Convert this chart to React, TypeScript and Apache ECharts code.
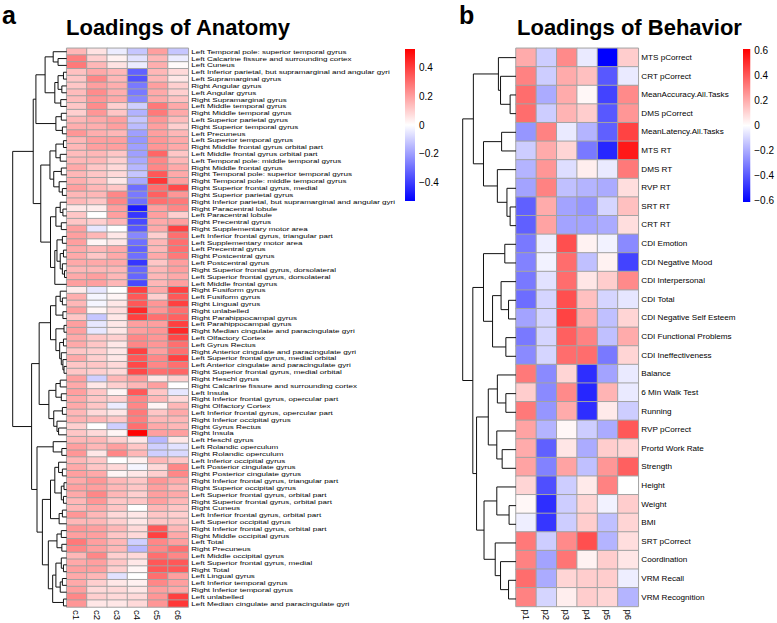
import React, { useEffect, useRef } from "react";
import * as echarts from "echarts";

type Tree = number | [Tree, Tree, number];

const FONT = "Liberation Sans, Arial, Helvetica, sans-serif";

const anatomyRows = [
  "Left Temporal pole: superior temporal gyrus",
  "Left Calcarine fissure and surrounding cortex",
  "Left Cuneus",
  "Left Inferior parietal, but supramarginal and angular gyri",
  "Left Supramarginal gyrus",
  "Right Angular gyrus",
  "Left Angular gyrus",
  "Right Supramarginal gyrus",
  "Left Middle temporal gyrus",
  "Right Middle temporal gyrus",
  "Left Superior parietal gyrus",
  "Right Superior temporal gyrus",
  "Left Precuneus",
  "Left Superior temporal gyrus",
  "Right Middle frontal gyrus orbital part",
  "Left Middle frontal gyrus orbital part",
  "Left Temporal pole: middle temporal gyrus",
  "Right Middle frontal gyrus",
  "Right Temporal pole: superior temporal gyrus",
  "Right Temporal pole: middle temporal gyrus",
  "Right Superior frontal gyrus, medial",
  "Right Superior parietal gyrus",
  "Right Inferior parietal, but supramarginal and angular gyri",
  "Right Paracentral lobule",
  "Left Paracentral lobule",
  "Right Precentral gyrus",
  "Right Supplementary motor area",
  "Left Inferior frontal gyrus, triangular part",
  "Left Supplementary motor area",
  "Left Precentral gyrus",
  "Right Postcentral gyrus",
  "Left Postcentral gyrus",
  "Right Superior frontal gyrus, dorsolateral",
  "Left Superior frontal gyrus, dorsolateral",
  "Left Middle frontal gyrus",
  "Right Fusiform gyrus",
  "Left Fusiform gyrus",
  "Right Lingual gyrus",
  "Right unlabelled",
  "Right Parahippocampal gyrus",
  "Left Parahippocampal gyrus",
  "Right Median cingulate and paracingulate gyri",
  "Left Olfactory Cortex",
  "Left Gyrus Rectus",
  "Right Anterior cingulate and paracingulate gyri",
  "Left Superior frontal gyrus, medial orbital",
  "Left Anterior cingulate and paracingulate gyri",
  "Right Superior frontal gyrus, medial orbital",
  "Right Heschl gyrus",
  "Right Calcarine fissure and surrounding cortex",
  "Left Insula",
  "Right Inferior frontal gyrus, opercular part",
  "Right Olfactory Cortex",
  "Left Inferior frontal gyrus, opercular part",
  "Right Inferior occipital gyrus",
  "Right Gyrus Rectus",
  "Right Insula",
  "Left Heschl gyrus",
  "Left Rolandic operculum",
  "Right Rolandic operculum",
  "Left Inferior occipital gyrus",
  "Left Posterior cingulate gyrus",
  "Right Posterior cingulate gyrus",
  "Right Inferior frontal gyrus, triangular part",
  "Right Superior occipital gyrus",
  "Left Superior frontal gyrus, orbital part",
  "Right Superior frontal gyrus, orbital part",
  "Right Cuneus",
  "Left Inferior frontal gyrus, orbital part",
  "Left Superior occipital gyrus",
  "Right Inferior frontal gyrus, orbital part",
  "Right Middle occipital gyrus",
  "Left Total",
  "Right Precuneus",
  "Left Middle occipital gyrus",
  "Left Superior frontal gyrus, medial",
  "Right Total",
  "Left Lingual gyrus",
  "Left Inferior temporal gyrus",
  "Right Inferior temporal gyrus",
  "Left unlabelled",
  "Left Median cingulate and paracingulate gyri",
];

const anatomyCols = ["c1", "c2", "c3", "c4", "c5", "c6"];

const anatomyLoadings: number[][] = [
  [0.15, 0.06, -0.04, -0.12, 0.2, -0.12],
  [0.27, 0.1, 0.03, -0.06, 0.15, -0.04],
  [0.28, 0.15, 0.06, -0.04, 0.17, 0.01],
  [0.13, 0.18, 0.15, -0.33, 0.15, 0.08],
  [0.12, 0.25, 0.15, -0.36, 0.15, 0.05],
  [0.12, 0.2, 0.17, -0.28, 0.2, 0.1],
  [0.14, 0.24, 0.17, -0.28, 0.18, 0.1],
  [0.14, 0.22, 0.18, -0.25, 0.18, 0.13],
  [0.12, 0.24, 0.1, -0.1, 0.28, 0.18],
  [0.1, 0.22, 0.12, -0.16, 0.28, 0.18],
  [0.15, 0.18, 0.2, -0.12, 0.22, 0.14],
  [0.17, 0.17, 0.2, -0.14, 0.2, 0.1],
  [0.22, 0.17, 0.15, -0.2, 0.2, 0.15],
  [0.15, 0.2, 0.2, -0.22, 0.22, 0.18],
  [0.15, 0.2, 0.2, -0.2, 0.22, 0.18],
  [0.14, 0.15, 0.12, -0.2, 0.32, 0.12],
  [0.15, 0.15, 0.1, -0.18, 0.25, 0.15],
  [0.18, 0.12, 0.08, -0.15, 0.25, 0.18],
  [0.15, 0.12, 0.08, -0.12, 0.35, 0.18],
  [0.17, 0.13, 0.05, -0.18, 0.42, 0.2],
  [0.2, 0.15, 0.12, -0.3, 0.3, 0.38],
  [0.15, 0.15, 0.25, -0.28, 0.33, 0.22],
  [0.15, 0.12, 0.25, -0.3, 0.3, 0.28],
  [0.05, 0.04, 0.2, -0.48, 0.2, 0.25],
  [0.12, 0.0, 0.2, -0.42, 0.2, 0.1],
  [0.12, 0.1, 0.15, -0.38, 0.18, 0.2],
  [0.2, -0.05, 0.0, -0.35, 0.18, 0.4],
  [0.2, 0.15, 0.05, -0.25, 0.1, 0.3],
  [0.2, 0.02, 0.05, -0.3, 0.15, 0.3],
  [0.18, 0.15, 0.18, -0.33, 0.15, 0.3],
  [0.18, 0.12, 0.18, -0.3, 0.18, 0.28],
  [0.18, 0.18, 0.18, -0.42, 0.12, 0.2],
  [0.15, 0.15, 0.15, -0.32, 0.15, 0.2],
  [0.18, 0.2, 0.15, -0.32, 0.15, 0.18],
  [0.2, 0.2, 0.15, -0.38, 0.15, 0.2],
  [0.04, -0.05, 0.0, 0.4, 0.18, 0.4],
  [0.17, -0.02, 0.02, 0.35, 0.1, 0.35],
  [0.15, -0.02, 0.05, 0.35, 0.22, 0.4],
  [0.2, 0.02, 0.07, 0.45, 0.22, 0.3],
  [0.12, -0.12, 0.05, 0.4, 0.3, 0.33],
  [0.2, -0.05, 0.05, 0.2, 0.2, 0.4],
  [0.2, -0.05, 0.05, 0.2, 0.22, 0.45],
  [0.18, 0.12, 0.1, 0.25, 0.22, 0.38],
  [0.18, 0.12, 0.05, 0.25, 0.22, 0.3],
  [0.12, 0.1, 0.05, 0.4, 0.2, 0.3],
  [0.18, 0.1, 0.05, 0.35, 0.25, 0.4],
  [0.12, 0.12, 0.08, 0.38, 0.25, 0.3],
  [0.12, 0.1, 0.08, 0.38, 0.3, 0.32],
  [0.2, -0.1, 0.15, 0.2, 0.05, 0.1],
  [0.18, 0.05, 0.1, 0.15, 0.2, 0.0],
  [0.2, 0.12, 0.02, 0.35, 0.12, -0.05],
  [0.18, 0.12, 0.1, 0.25, 0.15, 0.08],
  [0.18, 0.12, -0.04, 0.25, 0.02, 0.15],
  [0.15, 0.08, 0.05, 0.28, 0.12, 0.18],
  [0.16, 0.15, 0.12, 0.27, 0.15, 0.15],
  [0.1, 0.0, -0.1, 0.3, 0.18, 0.15],
  [0.12, 0.08, 0.02, 0.53, 0.2, 0.2],
  [0.15, 0.15, 0.1, 0.05, -0.15, 0.05],
  [0.2, 0.15, 0.2, 0.12, -0.1, -0.06],
  [0.22, 0.05, 0.25, 0.15, -0.1, -0.08],
  [0.15, 0.12, 0.0, 0.03, 0.15, 0.12],
  [0.18, 0.12, 0.08, -0.02, 0.08, 0.25],
  [0.2, 0.18, 0.02, 0.05, 0.1, 0.25],
  [0.18, 0.22, 0.15, 0.12, 0.22, 0.18],
  [0.2, 0.2, 0.15, 0.12, 0.2, 0.15],
  [0.18, 0.25, 0.15, 0.1, 0.2, 0.18],
  [0.15, 0.22, 0.12, 0.12, 0.2, 0.15],
  [0.15, 0.18, 0.12, 0.0, 0.15, 0.12],
  [0.22, 0.15, 0.08, 0.05, 0.12, 0.1],
  [0.15, 0.15, 0.1, 0.05, 0.12, 0.12],
  [0.22, 0.2, 0.15, 0.08, 0.35, 0.15],
  [0.2, 0.2, 0.12, 0.08, 0.4, 0.18],
  [0.28, 0.2, 0.15, -0.1, 0.25, 0.2],
  [0.25, 0.2, 0.15, -0.15, 0.25, 0.3],
  [0.15, 0.25, 0.1, 0.08, 0.3, 0.25],
  [0.18, 0.2, 0.12, 0.05, 0.35, 0.35],
  [0.2, 0.2, 0.1, 0.02, 0.35, 0.35],
  [0.18, 0.15, -0.06, 0.0, 0.3, 0.2],
  [0.18, 0.1, 0.05, 0.03, 0.25, 0.2],
  [0.2, 0.08, 0.08, 0.05, 0.2, 0.18],
  [0.25, 0.1, 0.08, 0.08, 0.22, 0.4],
  [0.22, 0.05, 0.05, 0.08, 0.22, 0.42],
];

const anatomyTree: Tree = [
  [
    [
      [[0, [1, 2, 0.16], 0.25], [[[3, 4, 0.06], [5, 6, 0.09], 0.16], [7, 8, 0.11], 0.22], 0.4],
      [[9, 10, 0.1], [11, 12, 0.08], 0.2],
      0.57,
    ],
    [
      [[[13, 14, 0.06], [15, 16, 0.12], 0.2], [[17, 18, 0.1], [19, [20, 21, 0.08], 0.14], 0.24], 0.31],
      [
        [[22, [23, 24, 0.07], 0.12], [25, 26, 0.1], 0.2],
        [[[27, 28, 0.08], [[29, 30, 0.06], [31, [32, 33, 0.04], 0.08], 0.12], 0.18], 34, 0.22],
        0.3,
      ],
      0.48,
    ],
    0.62,
  ],
  [
    [
      [
        [[35, [36, 37, 0.08], 0.12], [38, 39, 0.07], 0.2],
        [[40, 41, 0.05], [[42, 43, 0.06], [44, [45, [46, 47, 0.05], 0.07], 0.1], 0.13], 0.2],
        0.3,
      ],
      [[[48, 49, 0.12], [50, 51, 0.1], 0.2], [[52, 53, 0.08], [54, [55, 56, 0.15], 0.18], 0.24], 0.33],
      0.51,
    ],
    [
      [57, [58, 59, 0.09], 0.25],
      [
        [[[60, [61, 62, 0.08], 0.15], [[63, 64, 0.05], [65, 66, 0.06], 0.1], 0.22], [[67, 68, 0.08], 69, 0.14], 0.3],
        [
          [[70, 71, 0.1], [72, 73, 0.09], 0.18],
          [[[74, [75, 76, 0.06], 0.1], [[77, 78, 0.08], 79, 0.12], 0.2], [80, 81, 0.06], 0.26],
          0.34,
        ],
        0.45,
      ],
      0.55,
    ],
    0.65,
  ],
  1.0,
];

const behaviorRows = [
  "MTS pCorrect",
  "CRT pCorrect",
  "MeanAccuracy.All.Tasks",
  "DMS pCorrect",
  "MeanLatency.All.Tasks",
  "MTS RT",
  "DMS RT",
  "RVP RT",
  "SRT RT",
  "CRT RT",
  "CDI Emotion",
  "CDI Negative Mood",
  "CDI Interpersonal",
  "CDI Total",
  "CDI Negative Self Esteem",
  "CDI Functional Problems",
  "CDI Ineffectiveness",
  "Balance",
  "6 Min Walk Test",
  "Running",
  "RVP pCorrect",
  "Prortd Work Rate",
  "Strength",
  "Height",
  "Weight",
  "BMI",
  "SRT pCorrect",
  "Coordination",
  "VRM Recall",
  "VRM Recognition",
];

const behaviorCols = ["p1", "p2", "p3", "p4", "p5", "p6"];

const behaviorLoadings: number[][] = [
  [0.2, -0.12, 0.28, -0.05, -0.61, 0.12],
  [0.3, -0.12, 0.2, 0.15, -0.4, -0.05],
  [0.35, -0.2, 0.2, 0.02, -0.45, 0.28],
  [0.35, -0.12, 0.18, 0.12, -0.4, 0.25],
  [-0.25, 0.3, -0.05, -0.18, -0.38, 0.45],
  [-0.12, 0.2, 0.1, -0.32, -0.52, 0.55],
  [-0.18, 0.25, -0.08, 0.04, -0.05, 0.32],
  [-0.22, 0.3, -0.15, -0.18, -0.2, 0.08],
  [-0.38, 0.2, -0.22, -0.25, -0.1, 0.15],
  [-0.38, 0.22, -0.22, -0.22, -0.2, 0.08],
  [-0.32, -0.04, 0.42, 0.03, -0.03, -0.28],
  [-0.3, -0.03, 0.35, -0.15, 0.03, -0.45],
  [-0.32, -0.07, 0.35, 0.06, 0.12, 0.28],
  [-0.35, -0.1, 0.42, 0.15, -0.1, -0.06],
  [-0.22, -0.1, 0.45, 0.2, -0.15, 0.1],
  [-0.32, -0.1, 0.38, 0.3, -0.15, 0.2],
  [-0.28, -0.1, 0.35, 0.35, -0.32, 0.1],
  [0.32, -0.28, 0.1, -0.5, -0.22, -0.05],
  [0.12, -0.28, 0.28, -0.52, 0.18, -0.05],
  [0.32, -0.25, 0.2, -0.5, 0.05, -0.12],
  [0.22, -0.18, 0.02, -0.12, -0.2, 0.4],
  [0.2, -0.38, 0.06, -0.2, 0.12, 0.1],
  [0.22, -0.3, 0.22, -0.15, 0.25, 0.38],
  [0.1, -0.42, -0.12, 0.05, 0.3, 0.0],
  [0.02, -0.5, -0.12, 0.1, -0.03, 0.12],
  [-0.04, -0.48, -0.12, 0.12, -0.15, 0.1],
  [0.32, -0.12, 0.28, 0.42, -0.18, 0.08],
  [0.3, -0.22, 0.33, 0.03, 0.12, 0.06],
  [0.35, -0.2, 0.1, 0.12, 0.12, -0.04],
  [0.3, -0.1, 0.04, 0.12, 0.1, -0.18],
];

const behaviorTree: Tree = [
  [
    [0, [1, [2, 3, 0.11], 0.29], 0.33],
    [[4, 5, 0.27], [6, [7, [8, 9, 0.11], 0.17], 0.35], 0.61],
    0.8,
  ],
  [
    [[10, 11, 0.21], [[12, [13, 14, 0.14], 0.28], [15, 16, 0.19], 0.44], 0.61],
    [
      [[17, [18, 19, 0.19], 0.35], [20, [21, 22, 0.26], 0.36], 0.52],
      [[23, [24, 25, 0.13], 0.36], [26, [27, [28, 29, 0.14], 0.29], 0.39], 0.6],
      0.74,
    ],
    0.81,
  ],
  1.0,
];

const anatomyRange = 0.533;
const behaviorRange = 0.61;
const anatomyTicks = [-0.4, -0.2, 0, 0.2, 0.4];
const behaviorTicks = [-0.6, -0.4, -0.2, 0, 0.2, 0.4, 0.6];
const rampColors = ["#0000ff", "#ffffff", "#ff0000"];

function dendrogramSegments(tree: Tree): number[][][] {
  const segs: number[][][] = [];
  const walk = (node: Tree): [number, number] => {
    if (typeof node === "number") return [node, 0];
    const [l, r, h] = node;
    const [lp, lh] = walk(l);
    const [rp, rh] = walk(r);
    segs.push([
      [lh, lp],
      [h, lp],
      [h, rp],
      [rh, rp],
    ]);
    return [(lp + rp) / 2, h];
  };
  walk(tree);
  return segs;
}

function tickText(v: number): string {
  if (Math.abs(v) < 1e-9) return "0";
  return v < 0 ? "\u2212" + Math.abs(v) : String(v);
}

function heatData(m: number[][]) {
  const out: number[][] = [];
  m.forEach((row, i) => row.forEach((v, j) => out.push([j, i, v])));
  return out;
}

export default function App() {
  const ref = useRef<HTMLDivElement>(null);

  useEffect(() => {
    if (!ref.current) return;
    const chart = echarts.init(ref.current, undefined, { renderer: "svg" });

    const L = { left: 66.7, top: 48.3, width: 121.6, height: 561 };
    const R = { left: 516, top: 48.3, width: 122.3, height: 560 };

    const catX = (data: string[], gridIndex: number) => ({
      type: "category",
      data,
      gridIndex,
      position: "bottom",
      axisLine: { show: false },
      axisTick: { show: false },
      splitLine: { show: false },
      axisLabel: { rotate: -90, fontSize: 9.5, margin: 3, color: "#000", fontFamily: FONT },
    });
    const catY = (data: string[], gridIndex: number) => ({
      type: "category",
      data,
      gridIndex,
      inverse: true,
      axisLine: { show: false },
      axisTick: { show: false },
      splitLine: { show: false },
      axisLabel: { show: false },
    });
    const hidden = (gridIndex: number, min: number, max: number, inverse: boolean) => ({
      type: "value",
      gridIndex,
      min,
      max,
      inverse,
      show: false,
      splitLine: { show: false },
    });
    const barY = (gridIndex: number, range: number, ticks: number[]) => ({
      type: "value",
      gridIndex,
      min: -range,
      max: range,
      position: "right",
      axisLine: { show: false },
      axisTick: { show: false },
      splitLine: { show: false },
      axisLabel: {
        customValues: ticks,
        formatter: (v: number) => tickText(v),
        fontSize: 10,
        margin: 4,
        color: "#000",
        fontFamily: FONT,
      },
    });

    const rowLabels = (rows: string[], ax: number, ncol: number, fontSize: number, scaleX: number) => ({
      type: "custom",
      xAxisIndex: ax,
      yAxisIndex: ax,
      silent: true,
      z: 5,
      data: rows.map((_, i) => [ncol - 1, i]),
      renderItem: (params: any, api: any) => {
        const c = api.coord([api.value(0), api.value(1)]);
        const bw = api.size([1, 0])[0];
        return {
          type: "text",
          x: c[0] + bw / 2 + 3,
          y: c[1],
          scaleX,
          style: {
            text: rows[params.dataIndex],
            fontSize,
            fontFamily: FONT,
            fill: "#000",
            align: "left",
            verticalAlign: "middle",
          },
        };
      },
    });

    const colorBar = (ax: number, range: number) => ({
      type: "custom",
      xAxisIndex: ax,
      yAxisIndex: ax,
      silent: true,
      data: [[0, -range, range]],
      renderItem: (_p: any, api: any) => {
        const p0 = api.coord([0, api.value(2)]);
        const p1 = api.coord([1, api.value(1)]);
        return {
          type: "rect",
          shape: { x: p0[0], y: p0[1], width: p1[0] - p0[0], height: p1[1] - p0[1] },
          style: {
            fill: new echarts.graphic.LinearGradient(0, 0, 0, 1, [
              { offset: 0, color: rampColors[2] },
              { offset: 0.5, color: rampColors[1] },
              { offset: 1, color: rampColors[0] },
            ]),
          },
        };
      },
    });

    const dendro = (tree: Tree, ax: number) => ({
      type: "lines",
      coordinateSystem: "cartesian2d",
      xAxisIndex: ax,
      yAxisIndex: ax,
      polyline: true,
      silent: true,
      lineStyle: { color: "#111", width: 1, opacity: 1 },
      data: dendrogramSegments(tree).map((coords) => ({ coords })),
    });

    const heat = (m: number[][], ax: number) => ({
      type: "heatmap",
      xAxisIndex: ax,
      yAxisIndex: ax,
      data: heatData(m),
      silent: true,
      itemStyle: { borderColor: "#a3a3a3", borderWidth: 1 },
      emphasis: { disabled: true },
    });

    chart.setOption({
      animation: false,
      backgroundColor: "#ffffff",
      textStyle: { fontFamily: FONT },
      grid: [
        { ...L },
        { left: 12.7, top: L.top, width: 54, height: L.height },
        { left: 405, top: 49, width: 10, height: 152 },
        { ...R },
        { left: 462.7, top: R.top, width: 53.3, height: R.height },
        { left: 743, top: 49, width: 10, height: 153 },
      ],
      xAxis: [
        catX(anatomyCols, 0),
        hidden(1, 0, 1, true),
        hidden(2, 0, 1, false),
        catX(behaviorCols, 3),
        hidden(4, 0, 1, true),
        hidden(5, 0, 1, false),
      ],
      yAxis: [
        catY(anatomyRows, 0),
        hidden(1, -0.5, anatomyRows.length - 0.5, true),
        barY(2, anatomyRange, anatomyTicks),
        catY(behaviorRows, 3),
        hidden(4, -0.5, behaviorRows.length - 0.5, true),
        barY(5, behaviorRange, behaviorTicks),
      ],
      visualMap: [
        {
          type: "continuous",
          show: false,
          seriesIndex: 0,
          dimension: 2,
          min: -anatomyRange,
          max: anatomyRange,
          inRange: { color: rampColors },
        },
        {
          type: "continuous",
          show: false,
          seriesIndex: 1,
          dimension: 2,
          min: -behaviorRange,
          max: behaviorRange,
          inRange: { color: rampColors },
        },
      ],
      series: [
        heat(anatomyLoadings, 0),
        heat(behaviorLoadings, 3),
        dendro(anatomyTree, 1),
        dendro(behaviorTree, 4),
        rowLabels(anatomyRows, 0, anatomyCols.length, 6.2, 1.3),
        rowLabels(behaviorRows, 3, behaviorCols.length, 7.6, 1.07),
        colorBar(2, anatomyRange),
        colorBar(5, behaviorRange),
      ],
      graphic: [
        {
          type: "text",
          x: 2,
          y: 2,
          style: { text: "a", fontSize: 25, fontWeight: "bold", fontFamily: FONT, fill: "#000", verticalAlign: "top" },
        },
        {
          type: "text",
          x: 459,
          y: 2,
          style: { text: "b", fontSize: 25, fontWeight: "bold", fontFamily: FONT, fill: "#000", verticalAlign: "top" },
        },
        {
          type: "text",
          x: 66,
          y: 27,
          style: { text: "Loadings of Anatomy", fontSize: 22, fontWeight: "bold", fontFamily: FONT, fill: "#000", verticalAlign: "middle" },
        },
        {
          type: "text",
          x: 517,
          y: 27,
          style: { text: "Loadings of Behavior", fontSize: 22, fontWeight: "bold", fontFamily: FONT, fill: "#000", verticalAlign: "middle" },
        },
      ],
    });

    return () => chart.dispose();
  }, []);

  return (
    <div
      ref={ref}
      style={{ position: "absolute", left: 0, top: 0, width: 777, height: 623, background: "#fff" }}
    />
  );
}
